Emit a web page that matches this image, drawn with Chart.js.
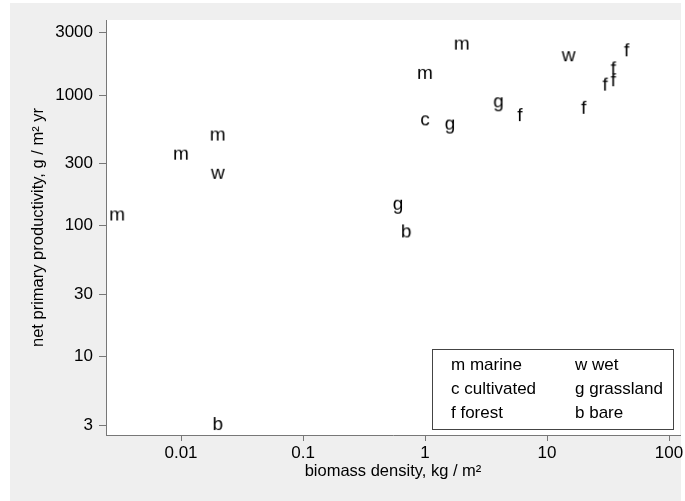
<!DOCTYPE html>
<html>
<head>
<meta charset="utf-8">
<script src="https://cdn.jsdelivr.net/npm/chart.js@4/dist/chart.umd.min.js"></script>
<style>
  html, body { margin: 0; padding: 0; background: #ffffff; }
  #c { display: block; }
</style>
</head>
<body>
<canvas id="c" width="685" height="501"></canvas>
<script>
// ---- data (biomass density kg/m², net primary productivity g/m² yr) ----
const marineX = [0.003, 0.01, 0.02, 1.0, 2.0];
const marineY = [120, 350, 490, 1450, 2430];
const wetX = [0.02, 15];
const wetY = [250, 1980];
const cultivatedX = [1.0];
const cultivatedY = [640];
const grasslandX = [0.6, 1.6, 4.0];
const grasslandY = [145, 595, 880];
const forestX = [6, 20, 30, 35, 35, 45];
const forestY = [690, 785, 1180, 1275, 1570, 2160];
const bareX = [0.02, 0.7];
const bareY = [3, 89];

const categoryLetters = ['m', 'w', 'c', 'g', 'f', 'b'];
const categoryNames = ['marine', 'wet', 'cultivated', 'grassland', 'forest', 'bare'];

const xTickValues = [0.01, 0.1, 1, 10, 100];
const xTickLabels = ['0.01', '0.1', '1', '10', '100'];
const yTickValues = [3, 10, 30, 100, 300, 1000, 3000];
const yTickLabels = ['3', '10', '30', '100', '300', '1000', '3000'];

const xTitle = 'biomass density, kg / m\u00B2';
const yTitle = 'net primary productivity, g / m\u00B2 yr';

// ---- styling ----
const FONT = '"Liberation Sans", Arial, Helvetica, sans-serif';
const TEXT = '#000000';
const AXIS = '#777777';

function letterImage(ch) {
  const cv = document.createElement('canvas');
  cv.width = 28; cv.height = 28;
  const g = cv.getContext('2d');
  g.fillStyle = TEXT;
  g.font = '19px ' + FONT;
  g.textAlign = 'center';
  g.textBaseline = 'middle';
  g.fillText(ch, 14, 14);
  return cv;
}

function pts(xs, ys) { return xs.map((x, i) => ({ x: x, y: ys[i] })); }

const seriesX = [marineX, wetX, cultivatedX, grasslandX, forestX, bareX];
const seriesY = [marineY, wetY, cultivatedY, grasslandY, forestY, bareY];

const datasets = categoryNames.map((name, i) => ({
  label: name,
  data: pts(seriesX[i], seriesY[i]),
  pointStyle: letterImage(categoryLetters[i]),
  pointRadius: 10,
  showLine: false
}));

const bgPlugin = {
  id: 'bg',
  beforeDraw(chart) {
    const ctx = chart.ctx;
    const a = chart.chartArea;
    ctx.save();
    ctx.fillStyle = '#efefef';
    ctx.fillRect(10, 3, 671, 498);
    ctx.fillStyle = '#ffffff';
    ctx.fillRect(a.left, a.top, a.right - a.left, a.bottom - a.top);
    ctx.restore();
  }
};

const legendPlugin = {
  id: 'letterLegend',
  afterDraw(chart) {
    const ctx = chart.ctx;
    ctx.save();
    ctx.fillStyle = '#ffffff';
    ctx.fillRect(432.5, 349.5, 241, 80);
    ctx.strokeStyle = '#444444';
    ctx.lineWidth = 1;
    ctx.strokeRect(432.5, 349.5, 241, 80);
    ctx.fillStyle = TEXT;
    ctx.font = '17px ' + FONT;
    ctx.textAlign = 'left';
    ctx.textBaseline = 'middle';
    const colX = [451, 575];
    const rowY = [365, 389, 413];
    categoryNames.forEach((name, i) => {
      const col = i % 2, row = Math.floor(i / 2);
      ctx.fillText(categoryLetters[i] + ' ' + name, colX[col], rowY[row]);
    });
    ctx.restore();
  }
};

function noOverflow(s) {
  s.paddingLeft = 0; s.paddingRight = 0; s.paddingTop = 0; s.paddingBottom = 0;
}

new Chart(document.getElementById('c'), {
  type: 'scatter',
  data: { datasets: datasets },
  options: {
    responsive: false,
    animation: false,
    events: [],
    layout: { autoPadding: false, padding: { left: 10, top: 20, right: 5, bottom: 0 } },
    plugins: { legend: { display: false }, tooltip: { enabled: false } },
    scales: {
      x: {
        type: 'logarithmic',
        min: 0.002427,
        max: 123,
        afterBuildTicks(s) { s.ticks = xTickValues.map(v => ({ value: v })); },
        afterFit(s) { s.height = 66; noOverflow(s); },
        ticks: {
          autoSkip: false, maxRotation: 0, padding: 2,
          color: TEXT, font: { family: FONT, size: 17 },
          callback: (v, i) => xTickLabels[i]
        },
        grid: { drawOnChartArea: false, drawTicks: true, tickLength: 6, color: AXIS, tickColor: AXIS },
        border: { display: true, color: AXIS, width: 1 },
        title: { display: true, text: xTitle, color: TEXT, font: { family: FONT, size: 16.5 }, padding: { top: 0, bottom: 20 } }
      },
      y: {
        type: 'logarithmic',
        min: 2.516,
        max: 3745,
        afterBuildTicks(s) { s.ticks = yTickValues.map(v => ({ value: v })); },
        afterFit(s) { s.width = 96; noOverflow(s); },
        ticks: {
          autoSkip: false, padding: 6,
          color: TEXT, font: { family: FONT, size: 17 },
          callback: (v, i) => yTickLabels[i]
        },
        grid: { drawOnChartArea: false, drawTicks: true, tickLength: 7, color: AXIS, tickColor: AXIS },
        border: { display: true, color: AXIS, width: 1 },
        title: { display: true, text: yTitle, color: TEXT, font: { family: FONT, size: 16.5 }, padding: { top: 19, bottom: 0 } }
      }
    }
  },
  plugins: [bgPlugin, legendPlugin]
});
</script>
</body>
</html>
